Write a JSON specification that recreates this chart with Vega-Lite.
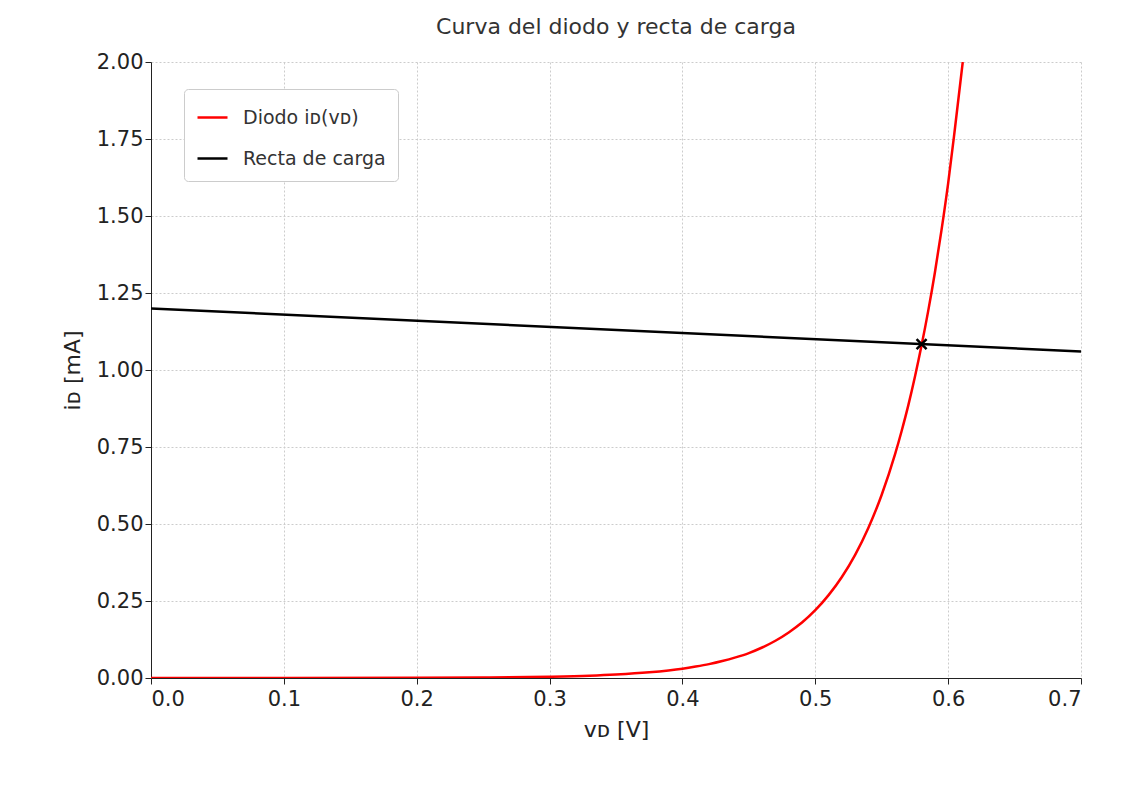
{
  "$schema": "https://vega.github.io/schema/vega-lite/v6.json",
  "autosize": "none",
  "width": 930,
  "height": 616,
  "padding": {"left": 151, "top": 62, "right": 46, "bottom": 110},
  "background": "white",
  "title": {"text": "Curva del diodo y recta de carga", "fontSize": 22, "font": "DejaVu Sans", "fontWeight": "normal", "color": "#333", "offset": 12},
  "config": {
    "view": {"stroke": null},
    "axis": {"labelFont": "DejaVu Sans", "titleFont": "DejaVu Sans", "labelFontSize": 21, "titleFontSize": 22, "titleFontWeight": "normal", "labelColor": "#222", "titleColor": "#222", "domainColor": "#222", "tickColor": "#222", "tickSize": 6, "gridColor": "#cccccc", "gridDash": [2, 2], "gridWidth": 1}
  },
  "datasets": {
    "diode": [
      {"v": 0.0, "i": 0.0, "s": "Diodo iᴅ(vᴅ)"},
      {"v": 0.1, "i": 0.00008, "s": "Diodo iᴅ(vᴅ)"},
      {"v": 0.2, "i": 0.00057, "s": "Diodo iᴅ(vᴅ)"},
      {"v": 0.25, "i": 0.0015, "s": "Diodo iᴅ(vᴅ)"},
      {"v": 0.3, "i": 0.0041, "s": "Diodo iᴅ(vᴅ)"},
      {"v": 0.33, "i": 0.0074, "s": "Diodo iᴅ(vᴅ)"},
      {"v": 0.35, "i": 0.0112, "s": "Diodo iᴅ(vᴅ)"},
      {"v": 0.375, "i": 0.0184, "s": "Diodo iᴅ(vᴅ)"},
      {"v": 0.4, "i": 0.03, "s": "Diodo iᴅ(vᴅ)"},
      {"v": 0.41, "i": 0.037, "s": "Diodo iᴅ(vᴅ)"},
      {"v": 0.42, "i": 0.045, "s": "Diodo iᴅ(vᴅ)"},
      {"v": 0.43, "i": 0.055, "s": "Diodo iᴅ(vᴅ)"},
      {"v": 0.44, "i": 0.067, "s": "Diodo iᴅ(vᴅ)"},
      {"v": 0.45, "i": 0.081, "s": "Diodo iᴅ(vᴅ)"},
      {"v": 0.46, "i": 0.099, "s": "Diodo iᴅ(vᴅ)"},
      {"v": 0.47, "i": 0.121, "s": "Diodo iᴅ(vᴅ)"},
      {"v": 0.48, "i": 0.148, "s": "Diodo iᴅ(vᴅ)"},
      {"v": 0.49, "i": 0.180, "s": "Diodo iᴅ(vᴅ)"},
      {"v": 0.5, "i": 0.22, "s": "Diodo iᴅ(vᴅ)"},
      {"v": 0.51, "i": 0.269, "s": "Diodo iᴅ(vᴅ)"},
      {"v": 0.52, "i": 0.328, "s": "Diodo iᴅ(vᴅ)"},
      {"v": 0.53, "i": 0.400, "s": "Diodo iᴅ(vᴅ)"},
      {"v": 0.54, "i": 0.488, "s": "Diodo iᴅ(vᴅ)"},
      {"v": 0.55, "i": 0.595, "s": "Diodo iᴅ(vᴅ)"},
      {"v": 0.56, "i": 0.726, "s": "Diodo iᴅ(vᴅ)"},
      {"v": 0.565, "i": 0.802, "s": "Diodo iᴅ(vᴅ)"},
      {"v": 0.57, "i": 0.885, "s": "Diodo iᴅ(vᴅ)"},
      {"v": 0.575, "i": 0.978, "s": "Diodo iᴅ(vᴅ)"},
      {"v": 0.58, "i": 1.08, "s": "Diodo iᴅ(vᴅ)"},
      {"v": 0.585, "i": 1.192, "s": "Diodo iᴅ(vᴅ)"},
      {"v": 0.59, "i": 1.316, "s": "Diodo iᴅ(vᴅ)"},
      {"v": 0.595, "i": 1.454, "s": "Diodo iᴅ(vᴅ)"},
      {"v": 0.6, "i": 1.606, "s": "Diodo iᴅ(vᴅ)"},
      {"v": 0.605, "i": 1.78, "s": "Diodo iᴅ(vᴅ)"},
      {"v": 0.611, "i": 2.0, "s": "Diodo iᴅ(vᴅ)"},
      {"v": 0.0, "i": 1.2, "s": "Recta de carga"},
      {"v": 0.7, "i": 1.06, "s": "Recta de carga"}
    ],
    "op": [{"v": 0.58, "i": 1.084}]
  },
  "layer": [
    {
      "data": {"name": "diode"},
      "mark": {"type": "line", "strokeWidth": 2.5, "clip": true, "interpolate": "monotone"},
      "encoding": {
        "x": {"field": "v", "type": "quantitative", "scale": {"domain": [0, 0.7]}, "axis": {"values": [0, 0.1, 0.2, 0.3, 0.4, 0.5, 0.6, 0.7], "format": ".1f", "title": "vᴅ [V]", "titlePadding": 10, "labelPadding": 4}},
        "y": {"field": "i", "type": "quantitative", "scale": {"domain": [0, 2]}, "axis": {"values": [0, 0.25, 0.5, 0.75, 1, 1.25, 1.5, 1.75, 2], "format": ".2f", "title": "iᴅ [mA]", "titlePadding": 12}},
        "color": {"field": "s", "type": "nominal", "scale": {"domain": ["Diodo iᴅ(vᴅ)", "Recta de carga"], "range": ["#ff0000", "#000000"]},
          "legend": {"title": null, "orient": "none", "legendX": 33, "legendY": 27, "labelFontSize": 19, "labelFont": "DejaVu Sans", "labelColor": "#333", "symbolType": "stroke", "symbolSize": 900, "symbolStrokeWidth": 2.5, "rowPadding": 14, "padding": 12, "labelOffset": 14, "strokeColor": "#cccccc", "fillColor": "white", "cornerRadius": 4}},
        "detail": {"field": "s"}
      }
    },
    {
      "data": {"name": "op"},
      "mark": {"type": "point", "shape": "M-1,-1L1,1M-1,1L1,-1", "filled": false, "color": "black", "strokeWidth": 2.5, "size": 100, "opacity": 1},
      "encoding": {
        "x": {"field": "v", "type": "quantitative"},
        "y": {"field": "i", "type": "quantitative"}
      }
    }
  ]
}
